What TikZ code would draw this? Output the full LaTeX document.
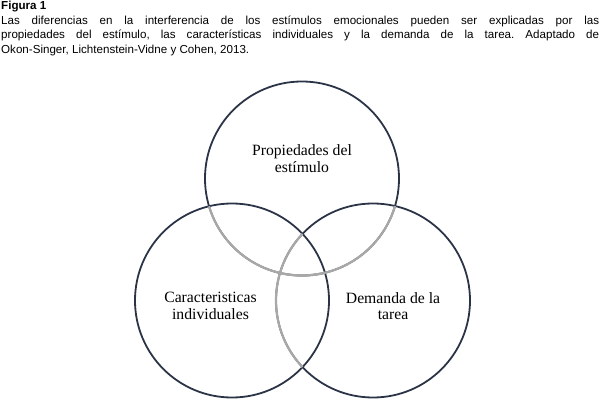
\documentclass[tikz,border=0pt]{standalone}
\usepackage{fontspec}
\setmainfont{Liberation Serif}
\setsansfont{Liberation Sans}
\usetikzlibrary{shapes}
\definecolor{ringcolor}{HTML}{2B3447}
\definecolor{overlapcolor}{HTML}{A8A8A8}
\tikzstyle{ring} = [circle, draw=ringcolor, line width=1.8pt,
    minimum size=194pt, inner sep=0pt]
\tikzstyle{overlap} = [draw=overlapcolor, line width=2.2pt]
\tikzstyle{ringtext} = [align=center, inner sep=0pt,
    font=\fontsize{15.7}{16.5}\selectfont]
\tikzstyle{figcaption} = [anchor=north west, text width=598pt, align=justify,
    inner sep=0pt, font=\sffamily\fontsize{11.6}{14.8}\selectfont]
\begin{document}
\frenchspacing
\begin{tikzpicture}[node distance = 141pt, auto]
    \useasboundingbox (0,0) rectangle (600pt,402pt);
    % Place nodes

    \node [figcaption] (caption) at (1pt,401.3pt) {\hyphenpenalty=10000 \textbf{Figura 1}\\
        Las diferencias en la interferencia de los estímulos emocionales pueden ser explicadas por las\linebreak
        propiedades del estímulo, las características individuales y la demanda de la tarea. Adaptado de\linebreak
        Okon-Singer, Lichtenstein-Vidne y Cohen, 2013.};

    \node [ring] (leftc) at (232pt,101.5pt) {};
    \node [ring, right of=leftc] (rightc) {};
    \node [ring, above of=leftc, node distance=122pt, xshift=70pt] (topc) {};

    \node [ringtext, above of=topc, node distance=20pt] (propiedades) {Propiedades del\\ estímulo};
    \node [ringtext, left of=leftc, node distance=21.5pt, yshift=-5.5pt] (caracteristicas) {Caracteristicas\\ individuales};
    \node [ringtext, right of=rightc, node distance=20pt, yshift=-5.5pt] (demanda) {Demanda de la\\ tarea};

    % Grey the overlaps
    \begin{scope}
        \clip (leftc.center) circle (97pt);
        \path [overlap] (topc.center) circle (97pt);
        \path [overlap] (rightc.center) circle (97pt);
    \end{scope}
    \begin{scope}
        \clip (rightc.center) circle (97pt);
        \path [overlap] (topc.center) circle (97pt);
    \end{scope}
\end{tikzpicture}
\end{document}
